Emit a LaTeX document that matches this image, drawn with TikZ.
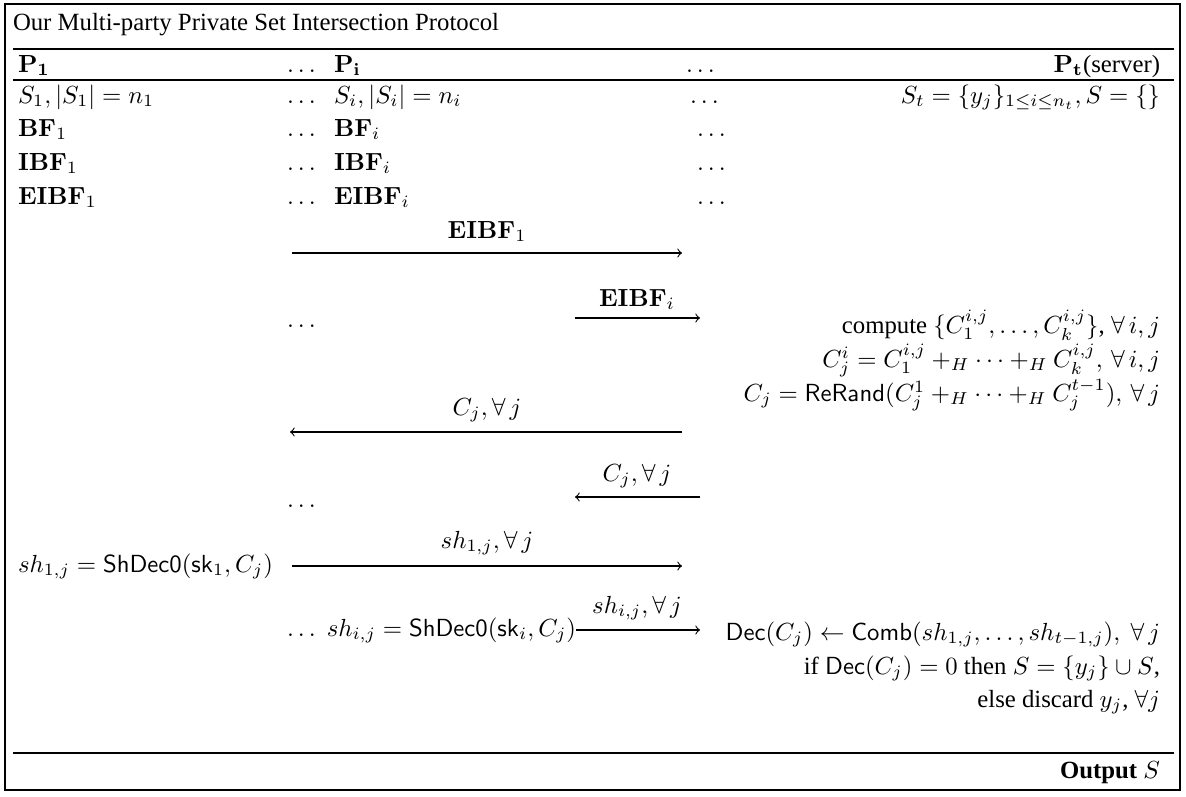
\documentclass[tikz,border=0pt]{standalone}
\usepackage{amsmath,amssymb}
\usepackage[no-math]{fontspec}
\setmainfont{Liberation Serif}
\begin{document}
\begin{tikzpicture}[x=0.404pt,y=-0.404pt,
  txt/.style={inner sep=0pt,outer sep=0pt,font=\fontsize{10}{12}\selectfont},
  lw/.style={txt,anchor=base west},
  le/.style={txt,anchor=base east},
  lc/.style={txt,anchor=base},
  msg/.style={->,line width=0.45pt},
  rule/.style={line width=0.45pt}]
\useasboundingbox (0,0) rectangle (1186,796);
\draw[line width=0.55pt] (5,4) rectangle (1180,790);
% title
\node[lw] (title) at (13,30) {Our Multi-party Private Set Intersection Protocol};
\coordinate (r1a) at (13,49); \coordinate (r1b) at (1174,49);
\draw[rule] (r1a) -- (r1b);
% header
\node[lw] (p1) at (18,72) {$\mathbf{P_1}$};
\node[lw] (d1) at (287,72) {$\ldots$};
\node[lw] (pi) at (334,72) {$\mathbf{P_i}$};
\node[lw] (d2) at (686,72) {$\ldots$};
\node[le] (pt) at (1160,72) {$\mathbf{P_t}$(server)};
\coordinate (r2a) at (13,80); \coordinate (r2b) at (1174,80);
\draw[rule] (r2a) -- (r2b);
% rows
\node[lw] (s1) at (18,103) {$S_1,|S_1|=n_1$};
\node[lw] (d3) at (287,103) {$\ldots$};
\node[lw] (si) at (334,103) {$S_i,|S_i|=n_i$};
\node[lw] (d4) at (690,103) {$\ldots$};
\node[le] (st) at (1160,103) {$S_t=\{y_j\}_{1\leq i\leq n_t},S=\{\}$};
\node[lw] (bf1) at (18,136) {$\mathbf{BF}_1$};
\node[lw] (d5) at (287,136) {$\ldots$};
\node[lw] (bfi) at (334,136) {$\mathbf{BF}_i$};
\node[lw] (d6) at (697,136) {$\ldots$};
\node[lw] (ibf1) at (18,170) {$\mathbf{IBF}_1$};
\node[lw] (d7) at (287,170) {$\ldots$};
\node[lw] (ibfi) at (334,170) {$\mathbf{IBF}_i$};
\node[lw] (d8) at (697,170) {$\ldots$};
\node[lw] (eibf1) at (18,204) {$\mathbf{EIBF}_1$};
\node[lw] (d9) at (287,204) {$\ldots$};
\node[lw] (eibfi) at (334,204) {$\mathbf{EIBF}_i$};
\node[lw] (d10) at (697,204) {$\ldots$};
% EIBF1 arrow
\coordinate (a1s) at (292,253); \coordinate (a1e) at (682,253);
\draw[msg] (a1s) -- (a1e);
\node[lc] (l1) at (487,238) {$\mathbf{EIBF}_1$};
% EIBFi arrow
\node[lw] (d11) at (287,327) {$\ldots$};
\coordinate (a2s) at (575,318); \coordinate (a2e) at (700,318);
\draw[msg] (a2s) -- (a2e);
\node[lc] (l2) at (637,306) {$\mathbf{EIBF}_i$};
% server computation
\node[le] (c1) at (1160,333) {compute $\{C_1^{i,j},\ldots,C_k^{i,j}\}$, $\forall\, i,j$};
\node[le] (c2) at (1160,367) {$C_j^i=C_1^{i,j}+_H\cdots+_H C_k^{i,j},\,\forall\, i,j$};
\node[le] (c3) at (1160,401) {$C_j=\mathsf{ReRand}(C_j^1+_H\cdots+_H C_j^{t-1}),\,\forall\, j$};
% Cj arrows
\coordinate (a3s) at (682,432); \coordinate (a3e) at (290,432);
\draw[msg] (a3s) -- (a3e);
\node[lc] (l3) at (487,415) {$C_j,\forall\, j$};
\coordinate (a4s) at (700,497); \coordinate (a4e) at (575,497);
\draw[msg] (a4s) -- (a4e);
\node[lc] (l4) at (637,481) {$C_j,\forall\, j$};
\node[lw] (d12) at (287,507) {$\ldots$};
% shares
\node[lw] (sh1) at (18,572) {$sh_{1,j}=\mathsf{ShDec0}(\mathsf{sk}_1,C_j)$};
\coordinate (a5s) at (292,566); \coordinate (a5e) at (682,566);
\draw[msg] (a5s) -- (a5e);
\node[lc] (l5) at (487,548) {$sh_{1,j},\forall\, j$};
\node[lw] (shi) at (287,636) {$\ldots\; sh_{i,j}=\mathsf{ShDec0}(\mathsf{sk}_i,C_j)$};
\coordinate (a6e) at (700,630);
\draw[msg] (shi.east |- a6e) -- (a6e);
\node[lc] (l6) at (637,613) {$sh_{i,j},\forall\, j$};
% decryption
\node[le] (e1) at (1160,640) {$\mathsf{Dec}(C_j)\leftarrow\mathsf{Comb}(sh_{1,j},\ldots,sh_{t-1,j}),\ \forall\, j$};
\node[le] (e2) at (1160,674) {if $\mathsf{Dec}(C_j)=0$ then $S=\{y_j\}\cup S$,};
\node[le] (e3) at (1160,707) {else discard $y_j$, $\forall j$};
\coordinate (r3a) at (13,753); \coordinate (r3b) at (1174,753);
\draw[rule] (r3a) -- (r3b);
\node[le] (out) at (1160,778) {\textbf{Output} $S$};
\end{tikzpicture}
\end{document}
